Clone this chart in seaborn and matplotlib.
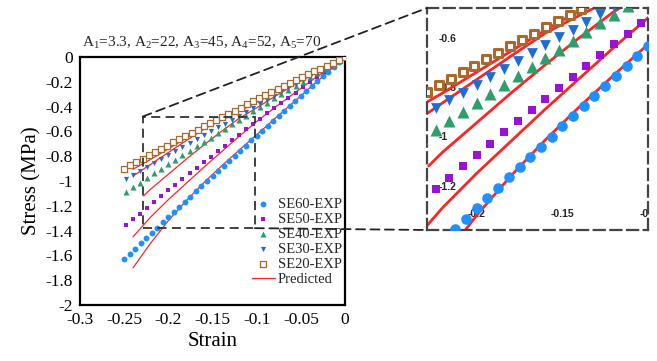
"""Stress-strain of SE foams: experiment vs. predicted, with zoomed inset."""

import matplotlib.pyplot as plt
import seaborn as sns
from matplotlib.patches import Rectangle, ConnectionPatch

sns.set_theme(style="white")
plt.rcParams['font.family'] = ['Liberation Serif', 'DejaVu Serif']
plt.rcParams['axes.unicode_minus'] = False
plt.rcParams['mathtext.fontset'] = 'stix'

# ------------------------------------------------------------
# Data
# ------------------------------------------------------------
strain_60 = [-0.25, -0.2438, -0.2375, -0.2313, -0.225, -0.2188, -0.2125, -0.2063,
             -0.2, -0.1938, -0.1875, -0.1813, -0.175, -0.1688, -0.1625, -0.1563,
             -0.15, -0.1438, -0.1375, -0.1313, -0.125, -0.1188, -0.1125, -0.1063,
             -0.1, -0.0938, -0.0875, -0.0813, -0.075, -0.0688, -0.0625, -0.0563,
             -0.05, -0.0438, -0.0375, -0.0313, -0.025, -0.0188, -0.0125, -0.0063, 0]
stress_60 = [-1.631, -1.589, -1.546, -1.503, -1.461, -1.419, -1.376, -1.334,
             -1.292, -1.250, -1.208, -1.167, -1.125, -1.083, -1.042, -1.001,
             -0.959, -0.918, -0.877, -0.836, -0.795, -0.755, -0.714, -0.673,
             -0.633, -0.593, -0.553, -0.512, -0.472, -0.432, -0.393, -0.353,
             -0.313, -0.274, -0.234, -0.195, -0.156, -0.117, -0.078, -0.039, 0.0]

strain_b = [-0.248, -0.24, -0.232, -0.224, -0.216, -0.208, -0.2, -0.192,
            -0.184, -0.176, -0.168, -0.16, -0.152, -0.144, -0.136, -0.128,
            -0.12, -0.112, -0.104, -0.096, -0.088, -0.08, -0.072, -0.064,
            -0.056, -0.048, -0.04, -0.032, -0.024, -0.016, -0.008, 0]
stress_50 = [-1.357, -1.309, -1.262, -1.215, -1.169, -1.122, -1.076, -1.030,
             -0.984, -0.939, -0.894, -0.849, -0.804, -0.759, -0.715, -0.671,
             -0.627, -0.584, -0.541, -0.498, -0.455, -0.412, -0.370, -0.328,
             -0.286, -0.244, -0.203, -0.162, -0.121, -0.081, -0.040, 0.0]
stress_40 = [-1.088, -1.050, -1.013, -0.976, -0.939, -0.902, -0.865, -0.829,
             -0.792, -0.756, -0.720, -0.684, -0.649, -0.613, -0.578, -0.542,
             -0.507, -0.472, -0.438, -0.403, -0.369, -0.334, -0.300, -0.266,
             -0.232, -0.199, -0.165, -0.132, -0.099, -0.066, -0.033, 0.0]
stress_30 = [-0.983, -0.951, -0.919, -0.887, -0.855, -0.823, -0.791, -0.759,
             -0.727, -0.695, -0.663, -0.631, -0.599, -0.568, -0.536, -0.504,
             -0.472, -0.441, -0.409, -0.377, -0.346, -0.314, -0.283, -0.251,
             -0.220, -0.188, -0.157, -0.125, -0.094, -0.063, -0.031, 0.0]

strain_20 = [-0.25, -0.2431, -0.2361, -0.2292, -0.2222, -0.2153, -0.2083, -0.2014,
             -0.1944, -0.1875, -0.1806, -0.1736, -0.1667, -0.1597, -0.1528, -0.1458,
             -0.1389, -0.1319, -0.125, -0.1181, -0.1111, -0.1042, -0.0972, -0.0903,
             -0.0833, -0.0764, -0.0694, -0.0625, -0.0556, -0.0486, -0.0417, -0.0347,
             -0.0278, -0.0208, -0.0139, -0.0069, 0]
stress_20 = [-0.901, -0.874, -0.847, -0.821, -0.794, -0.767, -0.741, -0.715,
             -0.688, -0.662, -0.636, -0.610, -0.585, -0.559, -0.533, -0.508,
             -0.483, -0.457, -0.432, -0.407, -0.382, -0.358, -0.333, -0.309,
             -0.284, -0.260, -0.235, -0.212, -0.188, -0.164, -0.140, -0.116,
             -0.093, -0.069, -0.046, -0.023, 0.0]

# predicted curves
pred_strain = [-0.24, -0.22, -0.2, -0.18, -0.16, -0.14, -0.12, -0.1,
               -0.08, -0.06, -0.04, -0.02, 0]
pred_60 = [-1.70, -1.50, -1.32, -1.16, -1.015, -0.88, -0.752, -0.627,
           -0.50, -0.375, -0.25, -0.125, 0.0]
pred_50 = [-1.45, -1.29, -1.15, -1.02, -0.89, -0.765, -0.64, -0.52,
           -0.41, -0.305, -0.20, -0.10, 0.0]
pred_30 = [-0.96, -0.865, -0.77, -0.675, -0.582, -0.51, -0.44, -0.365,
           -0.29, -0.215, -0.14, -0.07, 0.0]
pred_20 = [-0.905, -0.825, -0.74, -0.655, -0.57, -0.49, -0.41, -0.335,
           -0.265, -0.20, -0.13, -0.065, 0.0]
pred_strain_40 = [-0.228, -0.22, -0.2, -0.18, -0.16, -0.14, -0.12, -0.1,
                  -0.08, -0.06, -0.04, -0.02, 0]
pred_40 = [-1.12, -1.065, -0.945, -0.825, -0.71, -0.60, -0.495, -0.41,
           -0.32, -0.235, -0.155, -0.075, 0.0]

# zoom window
zoom_x = (-0.229, -0.102)
zoom_y = (-1.38, -0.48)

RED = "#FF2424"
series = [
    ("SE60-EXP", strain_60, stress_60, "o", "#1E90FF", False),
    ("SE50-EXP", strain_b, stress_50, "s", "#9A12D4", False),
    ("SE40-EXP", strain_b, stress_40, "^", "#2E9E6C", False),
    ("SE30-EXP", strain_b, stress_30, "v", "#1C6ED6", False),
    ("SE20-EXP", strain_20, stress_20, "s", "#A8692A", True),
]
predicted = [(pred_strain, pred_60), (pred_strain, pred_50),
             (pred_strain_40, pred_40), (pred_strain, pred_30),
             (pred_strain, pred_20)]

main_sizes = {"SE60-EXP": 18, "SE50-EXP": 12, "SE40-EXP": 19,
              "SE30-EXP": 14, "SE20-EXP": 13}
inset_sizes = {"SE60-EXP": 58, "SE50-EXP": 26, "SE40-EXP": 75,
               "SE30-EXP": 60, "SE20-EXP": 26}


def draw(ax, sizes, lw, open_lw, labels):
    for i, (xs, ys) in enumerate(predicted):
        sns.lineplot(x=xs, y=ys, ax=ax, color=RED, linewidth=lw,
                     estimator=None,
                     label=("Predicted" if (labels and i == 0) else "_nolegend_"))
    for name, xs, ys, mk, col, hollow in series:
        if hollow:
            sns.scatterplot(x=xs, y=ys, ax=ax, marker=mk, s=sizes[name],
                            color="white", edgecolor=col, linewidth=open_lw,
                            label=name if labels else "_nolegend_", zorder=3)
        else:
            sns.scatterplot(x=xs, y=ys, ax=ax, marker=mk, s=sizes[name],
                            color=col, linewidth=0,
                            label=name if labels else "_nolegend_", zorder=3)


fig = plt.figure(figsize=(6.57, 3.61), dpi=100)

# ---------------- main axes ----------------
ax = fig.add_axes([0.1218, 0.155, 0.4033, 0.687])
draw(ax, main_sizes, 0.9, 0.9, True)
ax.set_xlim(-0.3, 0)
ax.set_ylim(-2, 0)
ax.set_xticks([-0.3, -0.25, -0.2, -0.15, -0.1, -0.05, 0])
ax.set_xticklabels(["-0.3", "-0.25", "-0.2", "-0.15", "-0.1", "-0.05", "0"])
ax.set_yticks([-2, -1.8, -1.6, -1.4, -1.2, -1, -0.8, -0.6, -0.4, -0.2, 0])
ax.set_yticklabels(["-2", "-1.8", "-1.6", "-1.4", "-1.2", "-1", "-0.8",
                    "-0.6", "-0.4", "-0.2", "0"])
ax.tick_params(length=0, labelsize=12.5, pad=5, colors="black")
ax.set_xlabel("Strain", fontsize=15, labelpad=3, color="black")
ax.set_ylabel("Stress (MPa)", fontsize=15, labelpad=3, color="black")
for sp in ax.spines.values():
    sp.set_color("black")
    sp.set_linewidth(1.6)

handles, labels = ax.get_legend_handles_labels()
order = ["SE60-EXP", "SE50-EXP", "SE40-EXP", "SE30-EXP", "SE20-EXP", "Predicted"]
hmap = dict(zip(labels, handles))
ax.legend([hmap[k] for k in order], order, loc="lower right",
          bbox_to_anchor=(1.0, 0.065), frameon=False, fontsize=10.5,
          labelspacing=0.12, handlelength=1.6, handletextpad=0.2,
          borderpad=0.1, borderaxespad=0.1)

fig.text(0.307, 0.881,
         r"A$\mathregular{_1}$=3.3, A$\mathregular{_2}$=22, A$\mathregular{_3}$=45, "
         r"A$\mathregular{_4}$=52, A$\mathregular{_5}$=70",
         ha="center", va="center", fontsize=11)

# zoom rectangle on the main axes
dash = (0, (5, 3))
ax.add_patch(Rectangle((zoom_x[0], zoom_y[0]), zoom_x[1] - zoom_x[0],
                       zoom_y[1] - zoom_y[0], fill=False, edgecolor="#333333",
                       linewidth=1.3, linestyle=dash, zorder=5))

# ---------------- inset ----------------
axins = fig.add_axes([0.65, 0.3629, 0.3364, 0.615])
draw(axins, inset_sizes, 2.0, 2.2, False)
axins.set_xlim(*zoom_x)
axins.set_ylim(*zoom_y)
axins.set_xticks([-0.2, -0.15, -0.1])
axins.set_xticklabels(["-0.2", "-0.15", "-0.1"])
axins.set_yticks([-1.2, -1, -0.8, -0.6])
axins.set_yticklabels(["-1.2", "-1", "-0.8", "-0.6"])
axins.set_xlabel("")
axins.set_ylabel("")
axins.tick_params(axis="y", direction="in", length=0, pad=-8)
axins.tick_params(axis="x", direction="in", length=0, pad=-15)
for lbl in axins.get_yticklabels() + axins.get_xticklabels():
    lbl.set_fontfamily("Liberation Sans")
    lbl.set_fontweight("bold")
    lbl.set_fontsize(7.5)
    lbl.set_clip_box(axins.bbox)
    lbl.set_clip_on(True)
for lbl in axins.get_yticklabels():
    lbl.set_horizontalalignment("left")
for sp in axins.spines.values():
    sp.set_color("#444444")
    sp.set_linewidth(1.6)
    sp.set_linestyle((0, (5, 2.5)))

# connector lines
for xyA, xyB in [((zoom_x[0], zoom_y[1]), (0, 1)), ((zoom_x[1], zoom_y[0]), (0, 0))]:
    con = ConnectionPatch(xyA=xyA, coordsA=ax.transData, xyB=xyB,
                          coordsB=axins.transAxes, color="#222222",
                          linewidth=1.3, linestyle=dash)
    fig.add_artist(con)

fig.savefig("out.png", dpi=100)
print("Saved out.png")
